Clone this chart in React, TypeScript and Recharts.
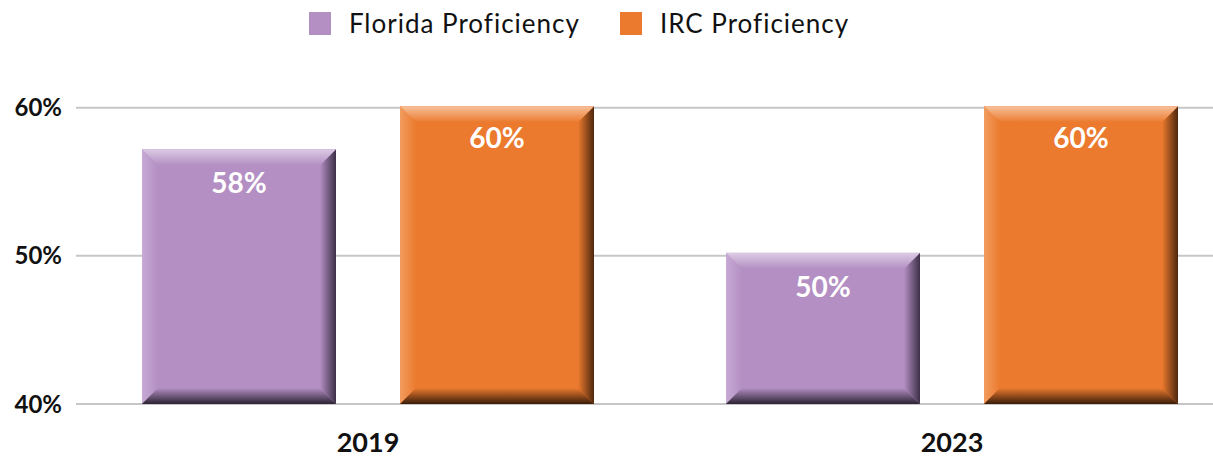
import { BarChart, Bar, XAxis, YAxis, CartesianGrid, LabelList } from "recharts";

const years = ["2019", "2023"];
const floridaValues = [57.2, 50.2];
const ircValues = [60.1, 60.1];
const floridaLabels = ["58%", "50%"];
const ircLabels = ["60%", "60%"];
const yTicks = [40, 50, 60];
const yDomain = [40, 62];

const seriesNames = ["Florida Proficiency", "IRC Proficiency"];

const PURPLE = {
  base: "#b48fc3",
  light: "#dccbe4",
  side: "#c7aad5",
  dark: "#3d2f47",
  darker: "#2c2333",
};
const ORANGE = {
  base: "#eb7a2e",
  light: "#f7c29c",
  side: "#f29c60",
  dark: "#4d270d",
  darker: "#3a1d0a",
};

const data = years.map((year, i) => ({
  year,
  florida: floridaValues[i],
  irc: ircValues[i],
  floridaLabel: floridaLabels[i],
  ircLabel: ircLabels[i],
}));

const FONT = "Lato, 'Open Sans', sans-serif";

function makeBevel(colors: typeof PURPLE, key: string) {
  return (props: any) => {
    const { x, y, width: w, height: h, index } = props;
    if (w == null || h == null || h <= 0) return <g />;
    const b = 16;
    const id = `${key}-${index}`;
    return (
      <g>
        <defs>
          <linearGradient id={`${id}-top`} x1="0" y1="0" x2="0" y2="1">
            <stop offset="0%" stopColor={colors.light} />
            <stop offset="100%" stopColor={colors.base} />
          </linearGradient>
          <linearGradient id={`${id}-left`} x1="0" y1="0" x2="1" y2="0">
            <stop offset="0%" stopColor={colors.side} />
            <stop offset="100%" stopColor={colors.base} />
          </linearGradient>
          <linearGradient id={`${id}-right`} x1="0" y1="0" x2="1" y2="0">
            <stop offset="0%" stopColor={colors.base} />
            <stop offset="100%" stopColor={colors.dark} />
          </linearGradient>
          <linearGradient id={`${id}-bottom`} x1="0" y1="0" x2="0" y2="1">
            <stop offset="0%" stopColor={colors.base} />
            <stop offset="100%" stopColor={colors.darker} />
          </linearGradient>
        </defs>
        <rect x={x} y={y} width={w} height={h} fill={colors.base} />
        <polygon
          points={`${x},${y} ${x + b},${y + b} ${x + b},${y + h - b} ${x},${y + h}`}
          fill={`url(#${id}-left)`}
        />
        <polygon
          points={`${x + w},${y} ${x + w},${y + h} ${x + w - b},${y + h - b} ${x + w - b},${y + b}`}
          fill={`url(#${id}-right)`}
        />
        <polygon
          points={`${x},${y + h} ${x + w},${y + h} ${x + w - b},${y + h - b} ${x + b},${y + h - b}`}
          fill={`url(#${id}-bottom)`}
        />
        <polygon
          points={`${x},${y} ${x + w},${y} ${x + w - b},${y + b} ${x + b},${y + b}`}
          fill={`url(#${id}-top)`}
        />
      </g>
    );
  };
}

const FloridaShape = makeBevel(PURPLE, "fl");
const IrcShape = makeBevel(ORANGE, "irc");

// horizontal grid only at the tick values, not at the top of the domain
const gridAtTicks = ({ offset }: any) =>
  yTicks.map(
    (t) => offset.top + (offset.height * (yDomain[1] - t)) / (yDomain[1] - yDomain[0])
  );

export default function App() {
  const legendColors = [PURPLE.base, ORANGE.base];
  return (
    <div
      style={{
        position: "absolute",
        left: 0,
        top: 0,
        width: 1213,
        height: 457,
        background: "#fff",
        overflow: "hidden",
        fontFamily: FONT,
      }}
    >
      <div
        style={{
          position: "absolute",
          top: 7,
          left: 0,
          width: 1158,
          display: "flex",
          justifyContent: "center",
          gap: 40,
        }}
      >
        {seriesNames.map((name, i) => (
          <div key={name} style={{ display: "flex", alignItems: "center" }}>
            <span
              style={{
                width: 22,
                height: 23,
                background: legendColors[i],
                display: "inline-block",
                marginRight: 18,
              }}
            />
            <span style={{ fontSize: 26, color: "#111", letterSpacing: 1 }}>{name}</span>
          </div>
        ))}
      </div>
      <BarChart
        width={1213}
        height={457}
        data={data}
        margin={{ top: 78, right: -31, bottom: 0, left: 0 }}
        barGap={64}
      >
        <CartesianGrid
          vertical={false}
          stroke="#c6c6c6"
          strokeWidth={2}
          horizontalCoordinatesGenerator={gridAtTicks}
        />
        <XAxis
          dataKey="year"
          axisLine={false}
          tickLine={false}
          tickSize={0}
          tickMargin={29}
          height={53}
          tick={{ fontSize: 27, fontWeight: 700, fill: "#111", fontFamily: FONT }}
        />
        <YAxis
          domain={yDomain}
          ticks={yTicks}
          allowDataOverflow
          axisLine={false}
          tickLine={false}
          tickSize={0}
          tickMargin={14}
          width={76}
          tickFormatter={(v: number) => `${v}%`}
          tick={{ fontSize: 24, fontWeight: 700, fill: "#111", fontFamily: FONT }}
        />
        <Bar
          dataKey="florida"
          name={seriesNames[0]}
          barSize={194}
          fill={PURPLE.base}
          shape={FloridaShape}
          isAnimationActive={false}
        >
          <LabelList
            dataKey="floridaLabel"
            position="insideTop"
            offset={24}
            fill="#fff"
            fontSize={28}
            fontWeight={700}
            fontFamily={FONT}
          />
        </Bar>
        <Bar
          dataKey="irc"
          name={seriesNames[1]}
          barSize={194}
          fill={ORANGE.base}
          shape={IrcShape}
          isAnimationActive={false}
        >
          <LabelList
            dataKey="ircLabel"
            position="insideTop"
            offset={22}
            fill="#fff"
            fontSize={28}
            fontWeight={700}
            fontFamily={FONT}
          />
        </Bar>
      </BarChart>
    </div>
  );
}
